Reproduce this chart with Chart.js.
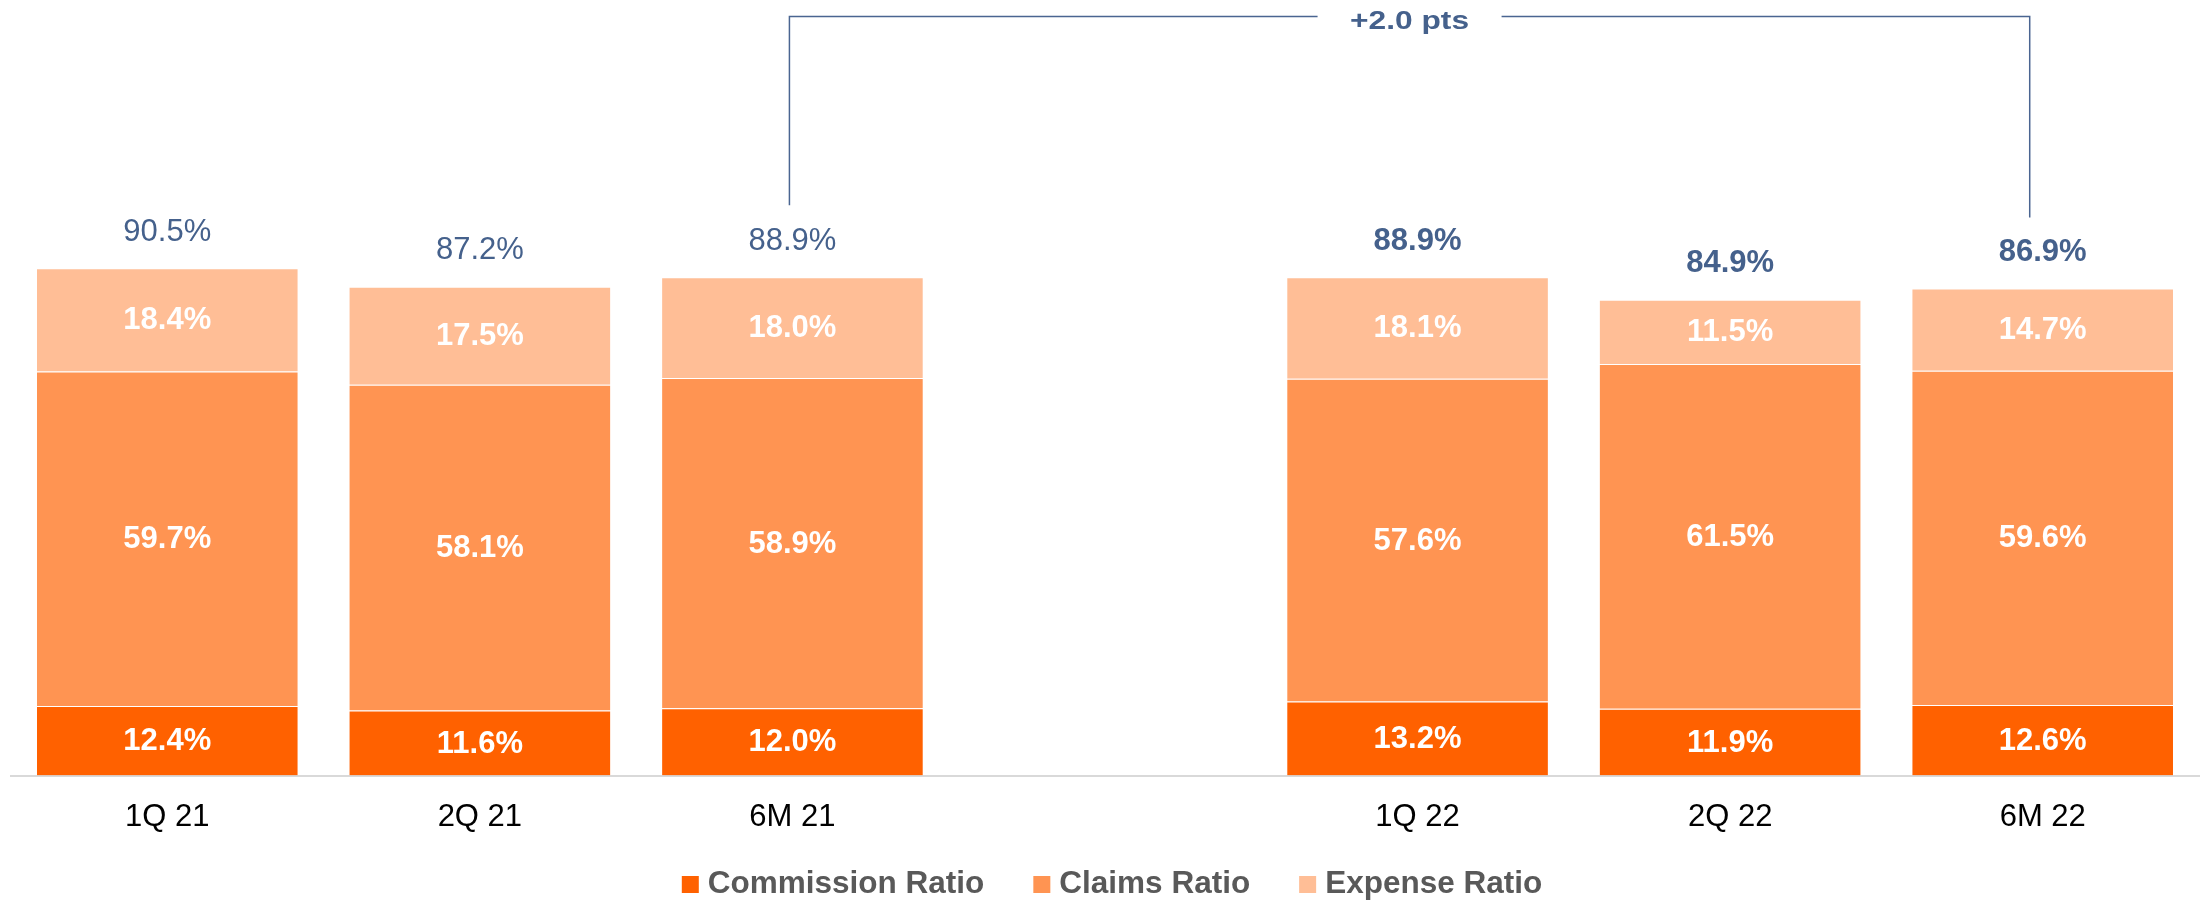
<!DOCTYPE html>
<html>
<head>
<meta charset="utf-8">
<script src="https://cdn.jsdelivr.net/npm/chart.js@4/dist/chart.umd.min.js"></script>
<style>
  html, body { margin: 0; padding: 0; background: #ffffff; }
  #wrap { width: 2206px; height: 902px; position: relative; }
</style>
</head>
<body>
<div id="wrap"><canvas id="c" width="2206" height="902"></canvas></div>
<script>
const categories = ['1Q 21', '2Q 21', '6M 21', '', '1Q 22', '2Q 22', '6M 22'];
const commissionRatio = [12.4, 11.6, 12.0, null, 13.2, 11.9, 12.6];
const claimsRatio     = [59.7, 58.1, 58.9, null, 57.6, 61.5, 59.6];
const expenseRatio    = [18.4, 17.5, 18.0, null, 18.1, 11.5, 14.7];
const combinedRatio   = [90.5, 87.2, 88.9, null, 88.9, 84.9, 86.9];
const boldTotals      = [false, false, false, false, true, true, true];
const seriesNames = ['Commission Ratio', 'Claims Ratio', 'Expense Ratio'];
const bracketText = '+2.0 pts';
const bracketFrom = 2, bracketTo = 6;

const COLORS = ['#FF6100', '#FF9452', '#FFBE96'];
const FONT = '"Liberation Sans", Arial, Helvetica, sans-serif';
const BLUE = '#45618C';

const labelsPlugin = {
  id: 'labelsPlugin',
  afterDatasetsDraw(chart) {
    const ctx = chart.ctx;
    ctx.save();
    // segment labels
    ctx.textAlign = 'center';
    ctx.textBaseline = 'middle';
    chart.data.datasets.forEach((ds, di) => {
      const meta = chart.getDatasetMeta(di);
      meta.data.forEach((el, i) => {
        const v = ds.data[i];
        if (v == null) return;
        ctx.fillStyle = '#ffffff';
        ctx.font = 'bold 31px ' + FONT;
        ctx.fillText(v.toFixed(1) + '%', el.x, (el.y + el.base) / 2 + 1);
      });
    });
    // totals
    const topMeta = chart.getDatasetMeta(chart.data.datasets.length - 1);
    topMeta.data.forEach((el, i) => {
      const v = combinedRatio[i];
      if (v == null) return;
      ctx.fillStyle = BLUE;
      ctx.font = (boldTotals[i] ? 'bold ' : '') + '31px ' + FONT;
      ctx.fillText(v.toFixed(1) + '%', el.x, el.y - 36);
    });
    // bracket
    const a = topMeta.data[bracketFrom], b = topMeta.data[bracketTo];
    const xL = a.x - 3, xR = b.x - 13;
    const yTop = 16.5;
    const cx = (xL + xR) / 2;
    ctx.strokeStyle = '#4A6591';
    ctx.lineWidth = 1.5;
    ctx.beginPath();
    ctx.moveTo(xL, a.y - 72);
    ctx.lineTo(xL, yTop);
    ctx.lineTo(cx - 92, yTop);
    ctx.moveTo(cx + 92, yTop);
    ctx.lineTo(xR, yTop);
    ctx.lineTo(xR, b.y - 71);
    ctx.stroke();
    ctx.save();
    ctx.translate(cx, 22);
    ctx.scale(1.22, 1);
    ctx.fillStyle = BLUE;
    ctx.font = 'bold 26px ' + FONT;
    ctx.fillText(bracketText, 0, 0);
    ctx.restore();
    // legend
    ctx.font = 'bold 31.5px ' + FONT;
    ctx.textAlign = 'left';
    ctx.textBaseline = 'middle';
    const box = 17, gapBox = 9, gapItem = 49;
    let total = 0;
    const widths = seriesNames.map(n => ctx.measureText(n).width);
    widths.forEach((w, i) => { total += box + gapBox + w + (i < widths.length - 1 ? gapItem : 0); });
    let x = (chart.chartArea.left + chart.chartArea.right) / 2 - total / 2 + 7;
    const ly = 884;
    seriesNames.forEach((n, i) => {
      ctx.fillStyle = COLORS[i];
      ctx.fillRect(x, ly - 8, box, box);
      ctx.fillStyle = '#595959';
      ctx.fillText(n, x + box + gapBox, ly);
      x += box + gapBox + widths[i] + gapItem;
    });
    ctx.restore();
  }
};

const datasets = [commissionRatio, claimsRatio, expenseRatio].map((d, i) => ({
  label: seriesNames[i],
  data: d,
  backgroundColor: COLORS[i],
  borderColor: 'rgba(255,255,255,0.35)',
  borderWidth: 1,
  borderSkipped: 'start',
  categoryPercentage: 1.0,
  barPercentage: 0.84
}));

new Chart(document.getElementById('c'), {
  type: 'bar',
  data: { labels: categories, datasets },
  options: {
    responsive: false,
    animation: false,
    devicePixelRatio: 1,
    layout: { padding: { left: 11, right: 7, top: 215, bottom: 0 } },
    plugins: { legend: { display: false }, tooltip: { enabled: false } },
    scales: {
      x: {
        stacked: true,
        grid: { display: false, drawTicks: false },
        border: { display: true, color: '#D9D9D9', width: 2 },
        ticks: { color: '#000000', font: { family: FONT, size: 31 }, padding: 23, maxRotation: 0 },
        afterFit(s) { s.height = 902 - 775.5; }
      },
      y: {
        stacked: true,
        display: false,
        min: 0,
        max: 100
      }
    }
  },
  plugins: [labelsPlugin]
});
</script>
</body>
</html>
